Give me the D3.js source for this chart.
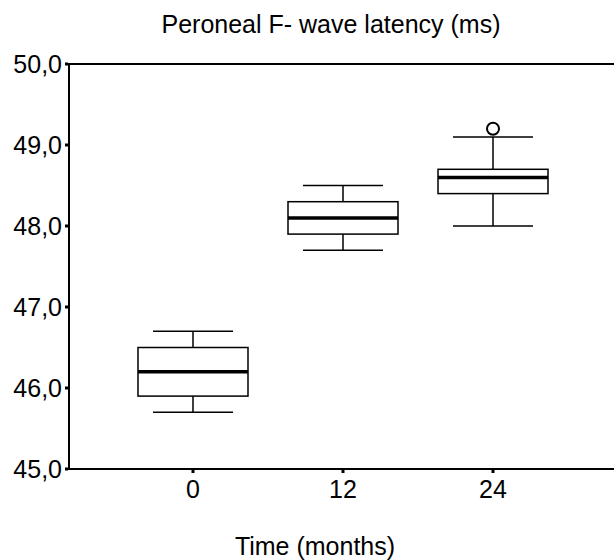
<!DOCTYPE html>
<html><head><meta charset="utf-8">
<script src="https://cdn.jsdelivr.net/npm/d3@7"></script>
<style>body{margin:0;background:#fff}svg{display:block}text{font-family:"Liberation Sans",Arial,sans-serif;fill:#000}</style>
</head><body><svg id="c" width="614" height="560"></svg>
<script>
const categories = ["0", "12", "24"];
const whiskerLow = [45.7, 47.7, 48.0];
const q1 = [45.9, 47.9, 48.4];
const medians = [46.2, 48.1, 48.6];
const q3 = [46.5, 48.3, 48.7];
const whiskerHigh = [46.7, 48.5, 49.1];
const outliers = [[], [], [49.2]];
const yTicks = [45, 46, 47, 48, 49, 50];
const title = "Peroneal F- wave latency (ms)";
const xTitle = "Time (months)";

const svg = d3.select("#c");
const fs = 25;
const y = d3.scaleLinear().domain([45, 50]).range([469, 64]);
const x = d3.scaleBand().domain(categories).range([118, 568]).paddingInner(0.2667).paddingOuter(0.1333);
const capHalf = 40;

// axes
svg.append("line").attr("x1", 69).attr("x2", 614).attr("y1", y(50)).attr("y2", y(50)).attr("stroke", "#000").attr("stroke-width", 2);
svg.append("line").attr("x1", 69).attr("x2", 614).attr("y1", y(45)).attr("y2", y(45)).attr("stroke", "#000").attr("stroke-width", 2);
svg.append("line").attr("x1", 69).attr("x2", 69).attr("y1", y(50) - 1).attr("y2", y(45) + 1).attr("stroke", "#000").attr("stroke-width", 2);

yTicks.forEach(t => {
  svg.append("rect").attr("x", 65).attr("y", y(t) - 1.5).attr("width", 3).attr("height", 3).attr("fill", "#000");
  svg.append("text").attr("x", 62).attr("y", y(t) + 9).attr("text-anchor", "end").attr("font-size", fs)
    .text(d3.format(".1f")(t).replace(".", ","));
});
categories.forEach(c => {
  const cx = x(c) + x.bandwidth() / 2;
  svg.append("rect").attr("x", cx - 1.5).attr("y", y(45) + 1).attr("width", 3).attr("height", 3).attr("fill", "#000");
  svg.append("text").attr("x", cx).attr("y", 498).attr("text-anchor", "middle").attr("font-size", fs).text(c);
});

// boxes
categories.forEach((c, i) => {
  const cx = x(c) + x.bandwidth() / 2;
  const g = svg.append("g").attr("stroke", "#000").attr("fill", "none");
  g.append("line").attr("x1", cx).attr("x2", cx).attr("y1", y(whiskerHigh[i])).attr("y2", y(q3[i])).attr("stroke-width", 1.5);
  g.append("line").attr("x1", cx).attr("x2", cx).attr("y1", y(q1[i])).attr("y2", y(whiskerLow[i])).attr("stroke-width", 1.5);
  g.append("line").attr("x1", cx - capHalf).attr("x2", cx + capHalf).attr("y1", y(whiskerHigh[i])).attr("y2", y(whiskerHigh[i])).attr("stroke-width", 1.5);
  g.append("line").attr("x1", cx - capHalf).attr("x2", cx + capHalf).attr("y1", y(whiskerLow[i])).attr("y2", y(whiskerLow[i])).attr("stroke-width", 1.5);
  g.append("rect").attr("x", x(c)).attr("width", x.bandwidth()).attr("y", y(q3[i])).attr("height", y(q1[i]) - y(q3[i])).attr("stroke-width", 1.5).attr("fill", "#fff");
  g.append("line").attr("x1", x(c)).attr("x2", x(c) + x.bandwidth()).attr("y1", y(medians[i])).attr("y2", y(medians[i])).attr("stroke-width", 3.5);
  outliers[i].forEach(v => {
    g.append("circle").attr("cx", cx).attr("cy", y(v)).attr("r", 6).attr("stroke-width", 2);
  });
});

svg.append("text").attr("x", 331).attr("y", 33).attr("text-anchor", "middle").attr("font-size", fs).text(title);
svg.append("text").attr("x", 315).attr("y", 555).attr("text-anchor", "middle").attr("font-size", fs).text(xTitle);
</script></body></html>
